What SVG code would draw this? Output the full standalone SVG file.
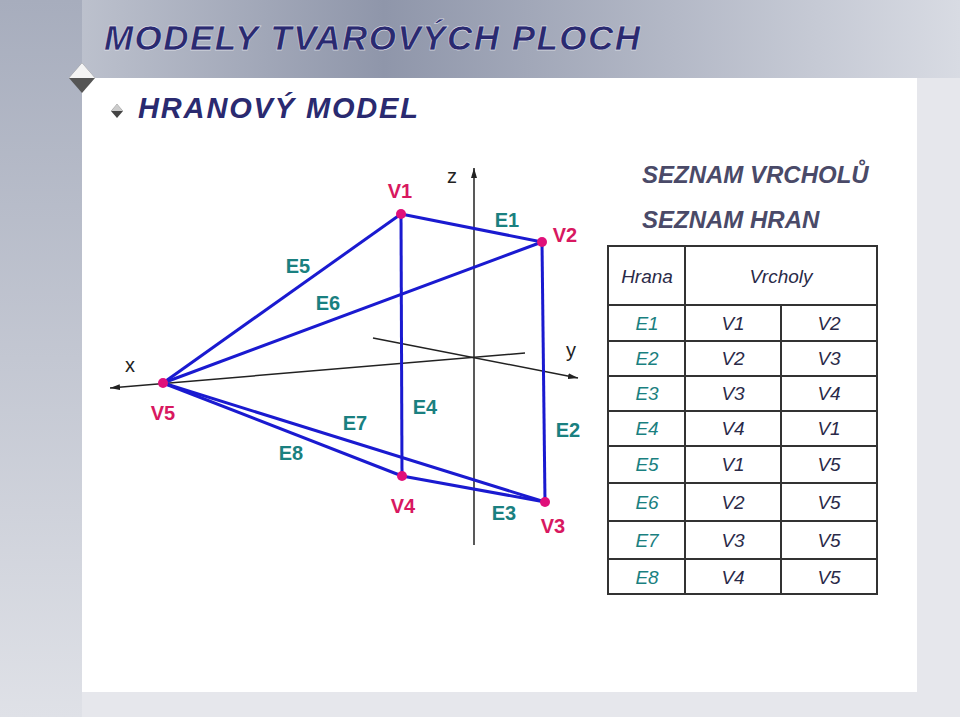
<svg xmlns="http://www.w3.org/2000/svg" width="960" height="717" viewBox="0 0 960 717">
<defs>
<linearGradient id="top" x1="0" y1="0" x2="1" y2="0"><stop offset="0" stop-color="#c8ccd6"/><stop offset="0.4" stop-color="#8f96aa"/><stop offset="1" stop-color="#d8dbe3"/></linearGradient>
<linearGradient id="left" x1="0" y1="0" x2="0" y2="1"><stop offset="0" stop-color="#a7adbd"/><stop offset="1" stop-color="#dfe1e7"/></linearGradient>
<marker id="ar" viewBox="0 0 10 6" refX="10" refY="3" markerWidth="10" markerHeight="6" orient="auto" markerUnits="userSpaceOnUse"><path d="M0,0 L10,3 L0,6 Z" fill="#222"/></marker>
<style>
.ax{stroke:#222;stroke-width:1.5;fill:none}
.ed{stroke:#1a1ad0;stroke-width:3;fill:none}
.v{fill:#e0107a}
.vl{font:bold 20px "Liberation Sans",Arial,sans-serif;fill:#d81860;text-anchor:middle}
.el{font:bold 20px "Liberation Sans",Arial,sans-serif;fill:#1a8080;text-anchor:middle}
.al{font:20px "Liberation Sans",Arial,sans-serif;fill:#222;text-anchor:middle}
.h{font:italic bold 24px "Liberation Sans",Arial,sans-serif;fill:#4a4a68}
.t{font:italic 19px "Liberation Sans",Arial,sans-serif;fill:#2a2a48;text-anchor:middle}
.te{font:italic 19px "Liberation Sans",Arial,sans-serif;fill:#1a8080;text-anchor:middle}
.g{stroke:#333;stroke-width:2;fill:none}
</style>
</defs>
<rect width="960" height="717" fill="#e6e7ec"/>
<rect x="0" y="0" width="960" height="78" fill="url(#top)"/>
<rect x="0" y="0" width="82" height="717" fill="url(#left)"/>
<rect x="82" y="78" width="835" height="614" fill="#ffffff"/>
<g id="deco"><path d="M82,63 L95,78 L82,93 L69,78 Z" fill="#555"/><path d="M69,78 L82,63 L95,78 Z" fill="#f4f4f4"/><path d="M117,104 L123,111 L117,118 L111,111 Z" fill="#444"/><path d="M111,111 L117,104 L123,111 Z" fill="#ccc"/></g>
<text x="104" y="50" textLength="536" font-family="Liberation Sans,Arial,sans-serif" font-size="35" font-weight="bold" font-style="italic" fill="#2a2a70" stroke="#fff" stroke-width="0.4">MODELY TVAROVÝCH PLOCH</text>
<text x="138" y="118" textLength="280" font-family="Liberation Sans,Arial,sans-serif" font-size="29" font-weight="bold" font-style="italic" fill="#2a2a70">HRANOVÝ MODEL</text>
<g id="axes">
<line class="ax" x1="474" y1="545" x2="474" y2="168" marker-end="url(#ar)"/>
<line class="ax" x1="525" y1="353" x2="110" y2="388" marker-end="url(#ar)"/>
<line class="ax" x1="373" y1="338" x2="578" y2="378" marker-end="url(#ar)"/>
<text class="al" x="452" y="183">z</text><text class="al" x="130" y="372">x</text><text class="al" x="571" y="357">y</text>
</g>
<g id="connectors">
<line class="ed" x1="401" y1="214" x2="542" y2="242"/>
<line class="ed" x1="542" y1="242" x2="545" y2="502"/>
<line class="ed" x1="545" y1="502" x2="402" y2="476"/>
<line class="ed" x1="402" y1="476" x2="401" y2="214"/>
<line class="ed" x1="163" y1="383" x2="401" y2="214"/>
<line class="ed" x1="163" y1="383" x2="542" y2="242"/>
<line class="ed" x1="163" y1="383" x2="545" y2="502"/>
<line class="ed" x1="163" y1="383" x2="402" y2="476"/>
</g>
<g id="V1"><circle class="v" cx="401" cy="214" r="5"/><text class="vl" x="400" y="198">V1</text></g>
<g id="V2"><circle class="v" cx="542" cy="242" r="5"/><text class="vl" x="565" y="242">V2</text></g>
<g id="V3"><circle class="v" cx="545" cy="502" r="5"/><text class="vl" x="553" y="533">V3</text></g>
<g id="V4"><circle class="v" cx="402" cy="476" r="5"/><text class="vl" x="403" y="513">V4</text></g>
<g id="V5"><circle class="v" cx="163" cy="383" r="5"/><text class="vl" x="163" y="420">V5</text></g>
<g id="edge-labels">
<text class="el" x="507" y="227">E1</text><text class="el" x="568" y="437">E2</text><text class="el" x="504" y="520">E3</text>
<text class="el" x="425" y="414">E4</text><text class="el" x="298" y="273">E5</text><text class="el" x="328" y="310">E6</text>
<text class="el" x="355" y="430">E7</text><text class="el" x="291" y="460">E8</text>
</g>
<g id="table">
<text class="h" x="642" y="183">SEZNAM VRCHOLŮ</text>
<text class="h" x="642" y="228">SEZNAM HRAN</text>
<rect class="g" x="608" y="246" width="269" height="348" fill="#fff"/>
<path class="g" d="M685,246V594M781,305V594M608,305H877M608,341H877M608,376H877M608,411H877M608,446H877M608,483H877M608,521H877M608,559H877"/>
<text class="t" x="647" y="283">Hrana</text><text class="t" x="781" y="283">Vrcholy</text>
<g>
<text class="te" x="647" y="330">E1</text><text class="t" x="733" y="330">V1</text><text class="t" x="829" y="330">V2</text>
<text class="te" x="647" y="365">E2</text><text class="t" x="733" y="365">V2</text><text class="t" x="829" y="365">V3</text>
<text class="te" x="647" y="400">E3</text><text class="t" x="733" y="400">V3</text><text class="t" x="829" y="400">V4</text>
<text class="te" x="647" y="435">E4</text><text class="t" x="733" y="435">V4</text><text class="t" x="829" y="435">V1</text>
<text class="te" x="647" y="471">E5</text><text class="t" x="733" y="471">V1</text><text class="t" x="829" y="471">V5</text>
<text class="te" x="647" y="509">E6</text><text class="t" x="733" y="509">V2</text><text class="t" x="829" y="509">V5</text>
<text class="te" x="647" y="547">E7</text><text class="t" x="733" y="547">V3</text><text class="t" x="829" y="547">V5</text>
<text class="te" x="647" y="584">E8</text><text class="t" x="733" y="584">V4</text><text class="t" x="829" y="584">V5</text>
</g>
</g>
</svg>
